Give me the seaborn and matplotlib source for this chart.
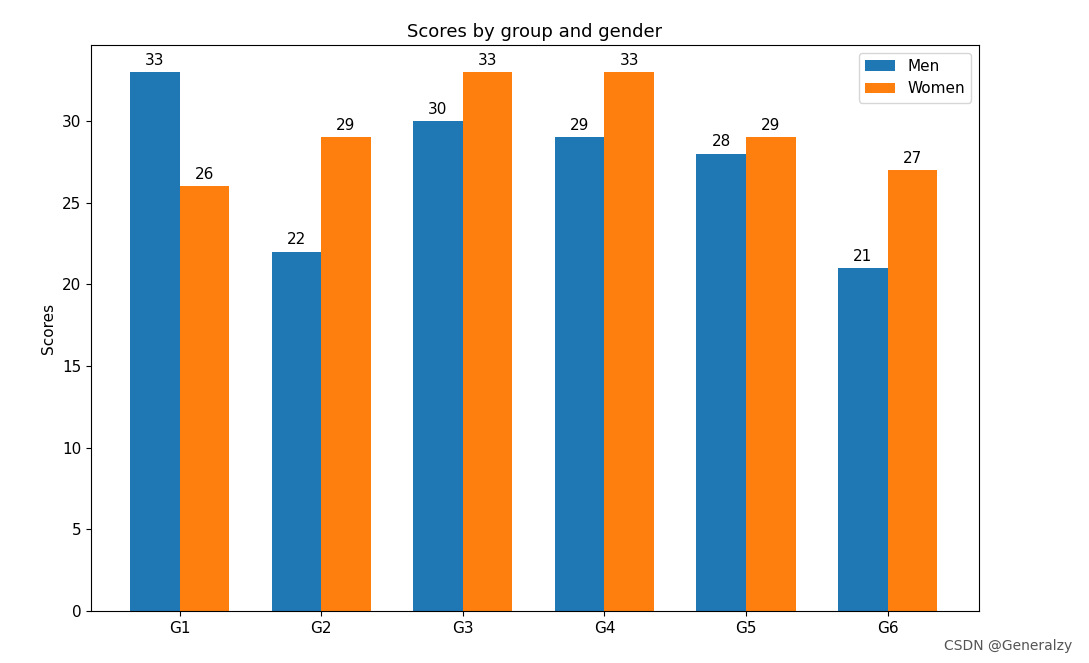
import matplotlib
matplotlib.use("Agg")
import matplotlib.pyplot as plt
import seaborn as sns
import pandas as pd

labels = ["G1", "G2", "G3", "G4", "G5", "G6"]
men_means = [33, 22, 30, 29, 28, 21]
women_means = [26, 29, 33, 33, 29, 27]

df = pd.DataFrame({
    "group": labels * 2,
    "score": men_means + women_means,
    "gender": ["Men"] * len(labels) + ["Women"] * len(labels),
})

fig = plt.figure(figsize=(10.89, 6.63), dpi=100)
ax = fig.add_axes([91/1089, 1-611/663, (979-91)/1089, (611-45)/663])
sns.barplot(data=df, x="group", y="score", hue="gender", ax=ax,
            palette=["#1f77b4", "#ff7f0e"], saturation=1, width=0.7,
            errorbar=None)
for c in ax.containers:
    ax.bar_label(c, padding=3, fontsize=11)
ax.set_xlim(-0.625, 5.645)
ax.set_ylim(0, 34.65)
ax.set_xlabel("")
ax.set_ylabel("Scores", fontsize=11)
ax.set_title("Scores by group and gender", fontsize=13)
ax.tick_params(labelsize=11)
ax.legend(loc="upper right", fontsize=11)
fig.text(0.985, 0.015, "CSDN @Generalzy", ha="right", va="bottom", fontsize=10, color="#555555")
fig.savefig("out.png", dpi=100)
